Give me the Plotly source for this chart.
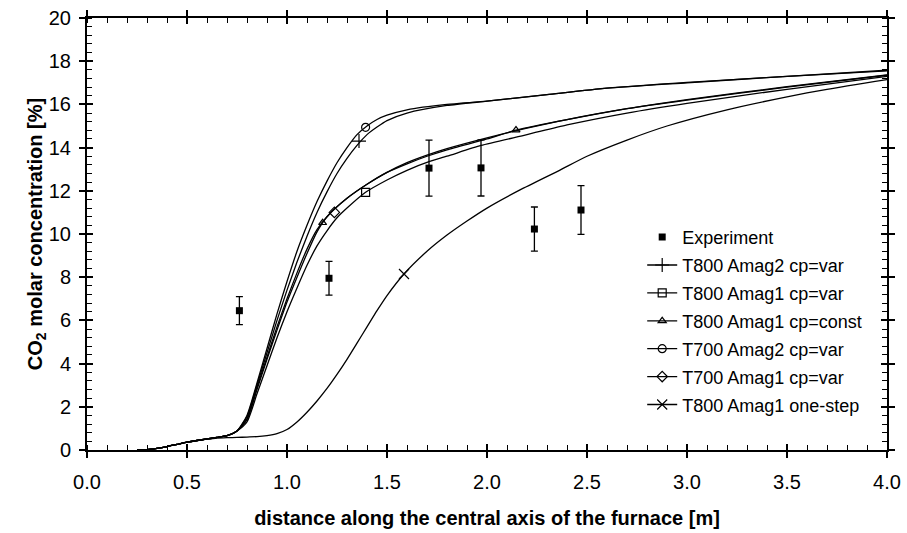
import plotly.graph_objects as go

# ---------------- data ----------------
exp_x = [0.762, 1.21, 1.71, 1.97, 2.237, 2.47]
exp_y = [6.45, 7.95, 13.05, 13.06, 10.23, 11.11]
exp_err = [0.65, 0.78, 1.3, 1.3, 1.02, 1.13]

low_x = [0.25, 0.3, 0.35, 0.4, 0.45, 0.5, 0.55, 0.6, 0.65, 0.7, 0.75]
low_y = [0.0, 0.02, 0.08, 0.16, 0.26, 0.36, 0.44, 0.51, 0.58, 0.66, 0.88]

t800a2_x = low_x + [0.8, 0.85, 0.9, 0.95, 1.0, 1.05, 1.1, 1.15, 1.2, 1.25, 1.3, 1.35, 1.4, 1.45, 1.5, 1.6, 1.8, 2.0, 2.3, 2.6, 3.0, 3.5, 4.0]
t800a2_y = low_y + [1.55, 3.0, 4.5, 6.0, 7.4, 8.7, 9.9, 11.0, 11.95, 12.8, 13.5, 14.1, 14.6, 14.95, 15.25, 15.6, 15.95, 16.15, 16.45, 16.75, 17.0, 17.3, 17.55]

t700a2_x = low_x + [0.8, 0.85, 0.9, 0.95, 1.0, 1.05, 1.1, 1.15, 1.2, 1.25, 1.3, 1.35, 1.4, 1.45, 1.5, 1.6, 1.8, 2.0, 2.3, 2.6, 3.0, 3.5, 4.0]
t700a2_y = low_y + [1.6, 3.1, 4.7, 6.3, 7.8, 9.2, 10.4, 11.5, 12.45, 13.3, 14.0, 14.6, 15.0, 15.3, 15.5, 15.75, 16.0, 16.15, 16.45, 16.75, 17.02, 17.3, 17.58]

t800a1_x = low_x + [0.8, 0.85, 0.9, 0.95, 1.0, 1.05, 1.1, 1.15, 1.2, 1.25, 1.3, 1.393, 1.5, 1.6, 1.71, 1.8, 1.97, 2.2, 2.4, 2.7, 3.0, 3.5, 4.0]
t800a1_y = low_y + [1.3, 2.6, 3.9, 5.2, 6.4, 7.5, 8.55, 9.45, 10.15, 10.75, 11.2, 11.93, 12.5, 12.95, 13.35, 13.6, 14.1, 14.6, 15.05, 15.6, 16.05, 16.7, 17.3]

t800a1c_x = low_x + [0.8, 0.85, 0.9, 0.95, 1.0, 1.05, 1.1, 1.15, 1.2, 1.3, 1.4, 1.5, 1.6, 1.7, 1.8, 2.0, 2.145, 2.4, 2.7, 3.0, 3.5, 4.0]
t800a1c_y = low_y + [1.4, 2.8, 4.2, 5.55, 6.85, 8.0, 9.1, 10.1, 10.8, 11.65, 12.3, 12.85, 13.25, 13.6, 13.9, 14.4, 14.81, 15.3, 15.8, 16.2, 16.8, 17.35]

t700a1_x = low_x + [0.8, 0.85, 0.9, 0.95, 1.0, 1.05, 1.1, 1.15, 1.2, 1.3, 1.4, 1.5, 1.6, 1.7, 1.8, 2.0, 2.2, 2.4, 2.7, 3.0, 3.5, 4.0]
t700a1_y = low_y + [1.45, 2.9, 4.3, 5.7, 7.0, 8.2, 9.3, 10.2, 10.8, 11.65, 12.3, 12.85, 13.3, 13.65, 13.95, 14.45, 14.9, 15.3, 15.8, 16.22, 16.82, 17.37]

onestep_x = [0.25, 0.3, 0.35, 0.4, 0.45, 0.5, 0.55, 0.6, 0.65, 0.7, 0.75, 0.8, 0.85, 0.9, 0.95, 1.0, 1.05, 1.1, 1.15, 1.2, 1.25, 1.3, 1.35, 1.4, 1.45, 1.5, 1.585, 1.7, 1.8, 1.9, 2.0, 2.165, 2.365, 2.5, 2.7, 2.9, 3.2, 3.5, 3.7, 4.0]
onestep_y = [0.0, 0.02, 0.08, 0.16, 0.26, 0.36, 0.44, 0.5, 0.55, 0.57, 0.58, 0.6, 0.62, 0.67, 0.76, 0.95, 1.3, 1.75, 2.27, 2.85, 3.5, 4.2, 4.95, 5.7, 6.45, 7.15, 8.15, 9.2, 9.95, 10.6, 11.2, 12.04, 12.96, 13.6, 14.35, 15.0, 15.75, 16.35, 16.7, 17.15]

# marker positions on the curves
mk_t800a2_x, mk_t800a2_y = [1.36], [14.3]
mk_t700a2_x, mk_t700a2_y = [1.393], [14.94]
mk_t800a1_x, mk_t800a1_y = [1.393], [11.93]
mk_t800a1c_x, mk_t800a1c_y = [1.178, None, 2.145], [10.52, None, 14.81]
mk_t700a1_x, mk_t700a1_y = [1.237], [11.0]
mk_onestep_x, mk_onestep_y = [1.585], [8.15]

x_ticks = [0.0, 0.5, 1.0, 1.5, 2.0, 2.5, 3.0, 3.5, 4.0]
y_ticks = [0, 2, 4, 6, 8, 10, 12, 14, 16, 18, 20]

FONT = "Arial, Liberation Sans, sans-serif"
LW = 1.3

fig = go.Figure()

curves = [
    ("T800 Amag2 cp=var", t800a2_x, t800a2_y, mk_t800a2_x, mk_t800a2_y, "cross-thin-open", 10),
    ("T800 Amag1 cp=var", t800a1_x, t800a1_y, mk_t800a1_x, mk_t800a1_y, "square-open", 8),
    ("T800 Amag1 cp=const", t800a1c_x, t800a1c_y, mk_t800a1c_x, mk_t800a1c_y, "triangle-up-open", 7),
    ("T700 Amag2 cp=var", t700a2_x, t700a2_y, mk_t700a2_x, mk_t700a2_y, "circle-open", 8),
    ("T700 Amag1 cp=var", t700a1_x, t700a1_y, mk_t700a1_x, mk_t700a1_y, "diamond-open", 8),
    ("T800 Amag1 one-step", onestep_x, onestep_y, mk_onestep_x, mk_onestep_y, "x-thin-open", 10),
]

fig.add_trace(go.Scatter(
    x=exp_x, y=exp_y, mode="markers", name="Experiment", legendgroup="exp",
    marker=dict(symbol="square", size=7, color="black"),
    error_y=dict(type="data", array=exp_err, color="black", thickness=1.3, width=3.5),
))

for i, (name, cx, cy, mx, my, sym, ms) in enumerate(curves):
    fig.add_trace(go.Scatter(
        x=cx, y=cy, mode="lines", showlegend=False, legendgroup=name,
        line=dict(color="black", width=LW, shape="spline", smoothing=0.6),
        hoverinfo="skip",
    ))
    fig.add_trace(go.Scatter(
        x=mx, y=my, mode="lines+markers", name=name, legendgroup=name,
        connectgaps=False,
        line=dict(color="black", width=LW),
        marker=dict(symbol=sym, size=ms, color="black",
                    line=dict(color="black", width=1.2)),
    ))

# empty trace on the overlay axes that carry the inner half of the major ticks
fig.add_trace(go.Scatter(x=[None], y=[None], xaxis="x2", yaxis="y2",
                         showlegend=False, hoverinfo="skip"))

tickfont = dict(family=FONT, size=20, color="black")

fig.update_layout(
    width=907, height=533,
    margin=dict(l=87, r=20, t=18, b=83, autoexpand=False),
    plot_bgcolor="white", paper_bgcolor="white",
    font=dict(family=FONT, color="black"),
    xaxis=dict(
        range=[0, 4], tickvals=x_ticks, ticktext=[f"{v:.1f}" for v in x_ticks],
        ticks="outside", ticklen=6, tickwidth=1.5, tickcolor="black",
        showline=True, linewidth=2, linecolor="black", mirror="ticks",
        showgrid=False, zeroline=False, tickfont=tickfont, automargin=False,
        ticklabelstandoff=7,
        minor=dict(dtick=0.1, ticks="inside", ticklen=5, tickwidth=1.2,
                   tickcolor="black", showgrid=False),
        title=dict(text="<b>distance along the central axis of the furnace [m]</b>",
                   font=dict(family=FONT, size=20, color="black"), standoff=19),
    ),
    yaxis=dict(
        range=[0, 20], tickvals=y_ticks, ticktext=[str(v) for v in y_ticks],
        ticks="outside", ticklen=6, tickwidth=1.5, tickcolor="black",
        showline=True, linewidth=2, linecolor="black", mirror="ticks",
        showgrid=False, zeroline=False, tickfont=tickfont, automargin=False,
        ticklabelstandoff=4,
        minor=dict(dtick=0.4, ticks="inside", ticklen=5, tickwidth=1.2,
                   tickcolor="black", showgrid=False),
        title=dict(text="<b>CO<sub>2</sub> molar concentration [%]</b>",
                   font=dict(family=FONT, size=20, color="black"), standoff=0),
    ),
    xaxis2=dict(
        overlaying="x", range=[0, 4], tickvals=x_ticks, showticklabels=False,
        ticks="inside", ticklen=6, tickwidth=1.5, tickcolor="black",
        showline=False, mirror="ticks", showgrid=False, zeroline=False,
        automargin=False,
    ),
    yaxis2=dict(
        overlaying="y", range=[0, 20], tickvals=y_ticks, showticklabels=False,
        ticks="inside", ticklen=6, tickwidth=1.5, tickcolor="black",
        showline=False, mirror="ticks", showgrid=False, zeroline=False,
        automargin=False,
    ),
    legend=dict(
        x=0.694, y=0.535, xanchor="left", yanchor="top",
        bgcolor="rgba(0,0,0,0)", borderwidth=0,
        font=dict(family=FONT, size=18, color="black"),
        itemwidth=30, traceorder="grouped", tracegroupgap=1.5,
    ),
    showlegend=True,
)

fig.write_html("out.html", config={"displayModeBar": False},
               post_script="document.body.style.margin='0';")
